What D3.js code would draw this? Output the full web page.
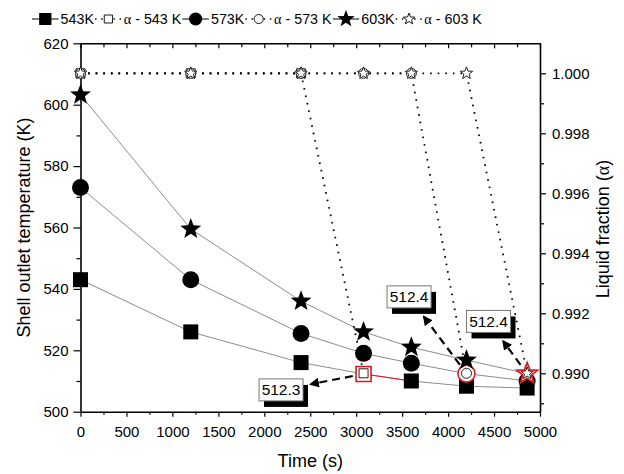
<!DOCTYPE html>
<html><head><meta charset="utf-8">
<script src="https://cdn.jsdelivr.net/npm/d3@7"></script>
<style>
body{margin:0;background:#fff}
svg{display:block}
text{font-family:"Liberation Sans",Arial,sans-serif;fill:#000}
.serif{font-family:"Liberation Serif","Times New Roman",serif}
</style>
</head><body>
<svg id="c" width="624" height="474"></svg>
<script>
// ---------------- data ----------------
const times    = [0, 1200, 2400, 3080, 3600, 4200, 4860];
const temp543  = [543, 526, 516, 512.3, 510, 508.3, 507.7];
const temp573  = [573, 543, 525.5, 519, 515.8, 512.4, 510];
const temp603  = [603.2, 559.5, 536, 526, 521, 516.8, 512.4];
const alpha543 = [1, 1, 1, 0.990];
const alpha573 = [1, 1, 1, 1, 1, 0.990];
const alpha603 = [1, 1, 1, 1, 1, 1, 0.990];
const seriesNames  = ["543K", "573K", "603K"];
const alphaNames   = ["α - 543 K", "α - 573 K", "α - 603 K"];
const shapes       = ["square", "circle", "star"];
const xTicks   = [0, 500, 1000, 1500, 2000, 2500, 3000, 3500, 4000, 4500, 5000];
const yTicks   = [500, 520, 540, 560, 580, 600, 620];
const yRTicks  = [0.990, 0.992, 0.994, 0.996, 0.998, 1.000];
// annotations: text, label centre (time, temperature)
const annoText = ["512.3", "512.4", "512.4"];
const annoTime = [2182, 3575, 4440];
const annoTemp = [507.1, 537.4, 529.4];

// ---------------- setup ----------------
const svg = d3.select("#c");
const L = 80.5, R = 540, T = 43.3, B = 411.7;
const x  = d3.scaleLinear().domain([0, 5000]).range([L, R]);
const y  = d3.scaleLinear().domain([500, 620]).range([B, T]);
const yR = d3.scaleLinear().domain([0.98872, 1.001]).range([B, T]);

function shapePath(shape, s) {
  if (shape === "square") return `M${-s/2},${-s/2}h${s}v${s}h${-s}Z`;
  if (shape === "circle") return `M${-s},0a${s},${s} 0 1,0 ${2*s},0a${s},${s} 0 1,0 ${-2*s},0Z`;
  const r = s * 0.42, p = [];
  for (let i = 0; i < 10; i++) {
    const a = -Math.PI/2 + i*Math.PI/5, rr = i % 2 ? r : s;
    p.push([(rr*Math.cos(a)).toFixed(2), (rr*Math.sin(a)).toFixed(2)]);
  }
  return "M" + p.join("L") + "Z";
}
const bigSize   = {square: 15, circle: 8.5, star: 11};
const smallSize = {square: 9,  circle: 5,   star: 6.5};

const temps  = [temp543, temp573, temp603];
const alphas = [alpha543, alpha573, alpha603];

// ---------------- axes ----------------
function styleAxis(g, w) {
  g.select(".domain").attr("stroke", "#000").attr("stroke-width", w);
  g.selectAll(".tick line").attr("stroke", "#000").attr("stroke-width", 1.2);
  g.selectAll(".tick text").style("font-size", "15px").attr("fill", "#000");
}
const xMinor = d3.range(250, 5000, 500);
const yMinor = d3.range(510, 620, 20);
const yRMinor = [0.989, 0.991, 0.993, 0.995, 0.997, 0.999];

// bottom
svg.append("g").attr("transform", `translate(0,${B})`)
  .call(d3.axisBottom(x).tickValues(xMinor).tickSize(3).tickSizeOuter(0).tickFormat(""))
  .call(g => { g.select(".domain").remove(); g.selectAll("line").attr("stroke","#000").attr("stroke-width",1.2); });
svg.append("g").attr("transform", `translate(0,${B})`)
  .call(d3.axisBottom(x).tickValues(xTicks).tickSize(5).tickSizeOuter(0).tickPadding(10).tickFormat(d3.format("d")))
  .call(g => styleAxis(g, 1.6));
// top
svg.append("g").attr("transform", `translate(0,${T})`)
  .call(d3.axisTop(x).tickValues(xMinor).tickSize(-4).tickSizeOuter(0).tickFormat(""))
  .call(g => { g.select(".domain").remove(); g.selectAll("line").attr("stroke","#000").attr("stroke-width",1.2); });
svg.append("g").attr("transform", `translate(0,${T})`)
  .call(d3.axisTop(x).tickValues(xTicks).tickSize(-5).tickSizeOuter(0).tickFormat(""))
  .call(g => styleAxis(g, 1.6));
// left
svg.append("g").attr("transform", `translate(${L},0)`)
  .call(d3.axisLeft(y).tickValues(yMinor).tickSize(4).tickSizeOuter(0).tickFormat(""))
  .call(g => { g.select(".domain").remove(); g.selectAll("line").attr("stroke","#000").attr("stroke-width",1.2); });
svg.append("g").attr("transform", `translate(${L},0)`)
  .call(d3.axisLeft(y).tickValues(yTicks).tickSize(7).tickSizeOuter(0).tickPadding(5).tickFormat(d3.format("d")))
  .call(g => styleAxis(g, 1.6));
// right
svg.append("g").attr("transform", `translate(${R},0)`)
  .call(d3.axisRight(yR).tickValues(yRMinor).tickSize(4).tickSizeOuter(0).tickFormat(""))
  .call(g => { g.select(".domain").remove(); g.selectAll("line").attr("stroke","#000").attr("stroke-width",1.2); });
svg.append("g").attr("transform", `translate(${R},0)`)
  .call(d3.axisRight(yR).tickValues(yRTicks).tickSize(6).tickSizeOuter(0).tickPadding(6).tickFormat(d3.format(".3f")))
  .call(g => styleAxis(g, 1.6));

// axis titles
svg.append("text").attr("transform", `translate(30,${(T+B)/2}) rotate(-90)`)
  .attr("text-anchor", "middle").style("font-size", "18px").text("Shell outlet temperature (K)");
const rt = svg.append("text").attr("transform", `translate(609,229) rotate(-90)`)
  .attr("text-anchor", "middle").style("font-size", "18px");
rt.append("tspan").text("Liquid fraction (");
rt.append("tspan").attr("class", "serif").text("α");
rt.append("tspan").text(")");
svg.append("text").attr("x", (L+R)/2).attr("y", 467).attr("text-anchor", "middle")
  .style("font-size", "18px").text("Time (s)");

// ---------------- series ----------------
const plot = svg.append("g");
const lineT = d3.line().x((d, i) => x(times[i])).y(d => y(d));
const lineA = d3.line().x((d, i) => x(times[i])).y(d => yR(d));

// temperature lines
temps.forEach(vals => {
  plot.append("path").attr("d", lineT(vals)).attr("fill", "none")
    .attr("stroke", "#8c8c8c").attr("stroke-width", 1);
});
// red segment of 543K after its transition point
{
  const k = alpha543.length - 1;
  plot.append("line").attr("x1", x(times[k])).attr("y1", y(temp543[k]))
    .attr("x2", x(times[k+1])).attr("y2", y(temp543[k+1]))
    .attr("stroke", "#e8141c").attr("stroke-width", 1);
}
// alpha dotted lines
alphas.forEach(vals => {
  plot.append("path").attr("d", lineA(vals)).attr("fill", "none")
    .attr("stroke", "#000").attr("stroke-width", 1.8).attr("stroke-dasharray", "1.6,6");
});
// temperature markers
temps.forEach((vals, s) => {
  const k = alphas[s].length - 1;
  vals.forEach((v, i) => {
    const hl = i === k;
    plot.append("path").attr("d", shapePath(shapes[s], bigSize[shapes[s]]))
      .attr("transform", `translate(${x(times[i])},${y(v)})`)
      .attr("fill", hl ? "#fff" : "#000")
      .attr("stroke", hl ? "#e8141c" : "none").attr("stroke-width", 1.6);
  });
});
// alpha markers
alphas.forEach((vals, s) => {
  vals.forEach((v, i) => {
    plot.append("path").attr("d", shapePath(shapes[s], smallSize[shapes[s]]))
      .attr("transform", `translate(${x(times[i])},${yR(v)})`)
      .attr("fill", "#fff").attr("stroke", "#222").attr("stroke-width", 1);
  });
});

// ---------------- annotations ----------------
const defs = svg.append("defs");
defs.append("marker").attr("id", "ah").attr("viewBox", "0 0 10 10").attr("refX", 8).attr("refY", 5)
  .attr("markerWidth", 4.5).attr("markerHeight", 4.5).attr("orient", "auto")
  .append("path").attr("d", "M0,0L10,5L0,10Z").attr("fill", "#000");

const bw = 44, bh = 22, sdx = 5, sdy = 6;
annoText.forEach((t, j) => {
  const s = j;                         // annotation j belongs to series j
  const k = alphas[s].length - 1;      // transition point
  const px = x(times[k]), py = y(temps[s][k]);
  const cx = x(annoTime[j]), cy = y(annoTemp[j]);
  const dx = cx - px, dy = cy - py, len = Math.hypot(dx, dy);
  const gap = 3;
  const bxEdge = dx < 0 ? cx + bw/2 + sdx + gap : cx - bw/2 - gap;
  const byEdge = dy < 0 ? cy + bh/2 + sdy + gap : cy - bh/2 - gap;
  const tx = (bxEdge - px) / dx, ty = (byEdge - py) / dy;
  const te = Math.max(tx, ty);
  const st = 11 / len;
  svg.append("line")
    .attr("x1", px + dx*st).attr("y1", py + dy*st)
    .attr("x2", px + dx*te).attr("y2", py + dy*te)
    .attr("stroke", "#000").attr("stroke-width", 2.2).attr("stroke-dasharray", "8,5")
    .attr("marker-end", "url(#ah)");
  svg.append("rect").attr("x", cx - bw/2 + sdx).attr("y", cy - bh/2 + sdy)
    .attr("width", bw).attr("height", bh).attr("fill", "#000");
  svg.append("rect").attr("x", cx - bw/2).attr("y", cy - bh/2)
    .attr("width", bw).attr("height", bh).attr("fill", "#fff")
    .attr("stroke", "#777").attr("stroke-width", 1);
  svg.append("text").attr("x", cx).attr("y", cy).attr("dy", "0.36em")
    .attr("text-anchor", "middle").style("font-size", "15.5px").text(t);
});

// ---------------- legend ----------------
const lg = svg.append("g");
const legendItems = [];
seriesNames.forEach((n, s) => {
  legendItems.push({kind: "temp", shape: shapes[s], label: n});
  legendItems.push({kind: "alpha", shape: shapes[s], label: alphaNames[s]});
});
const symW = 26, ly = 19;
let cursor = 0;
legendItems.forEach(it => {
  const g = lg.append("g").attr("transform", `translate(${cursor},0)`);
  if (it.kind === "temp") {
    g.append("line").attr("x1", 0).attr("x2", symW).attr("y1", ly).attr("y2", ly)
      .attr("stroke", "#000").attr("stroke-width", 1);
    const sz = {square: 12, circle: 6.5, star: 9}[it.shape];
    g.append("path").attr("d", shapePath(it.shape, sz)).attr("transform", `translate(${symW/2},${ly})`)
      .attr("fill", "#000");
  } else {
    g.append("line").attr("x1", 0).attr("x2", symW).attr("y1", ly).attr("y2", ly)
      .attr("stroke", "#000").attr("stroke-width", 1.4).attr("stroke-dasharray", "1.4,4.6");
    const sz = {square: 8, circle: 4.5, star: 6}[it.shape];
    g.append("path").attr("d", shapePath(it.shape, sz)).attr("transform", `translate(${symW/2},${ly})`)
      .attr("fill", "#fff").attr("stroke", "#000").attr("stroke-width", 0.9);
  }
  const tx = g.append("text").attr("x", symW + 2).attr("y", ly).attr("dy", "0.35em").style("font-size", "14px");
  if (it.kind === "alpha") {
    tx.append("tspan").attr("class", "serif").text(it.label.slice(0, 1));
    tx.append("tspan").text(it.label.slice(1));
  } else tx.text(it.label);
  cursor += symW + 2 + tx.node().getComputedTextLength() + 1;
});
const lStart = 32, lEnd = 483;
lg.attr("transform", `translate(${lStart},0) scale(${(lEnd - lStart) / cursor},1)`);
</script>
</body></html>
